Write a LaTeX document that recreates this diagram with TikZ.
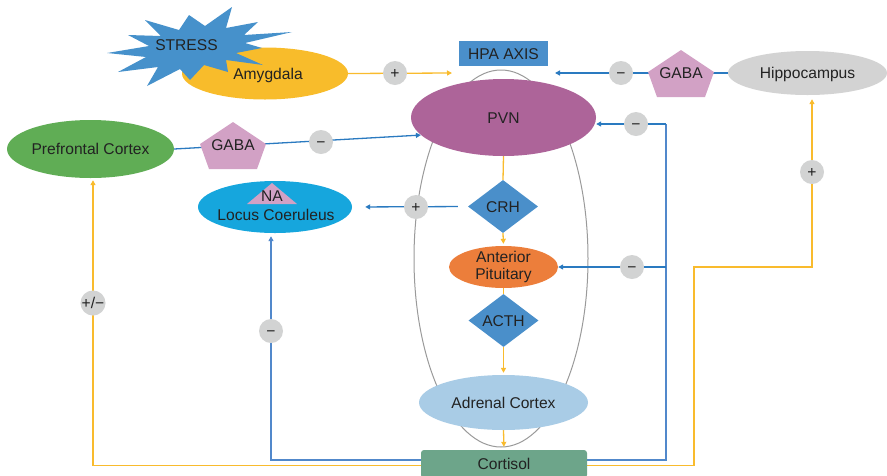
\documentclass[tikz,border=0pt]{standalone}
\usepackage{fontspec}
\setmainfont{Liberation Sans}
\usetikzlibrary{shapes.geometric,arrows.meta,backgrounds,calc}

\definecolor{amyc}{HTML}{F8BC2B}
\definecolor{stressc}{HTML}{4691CB}
\definecolor{hpac}{HTML}{4A8FCB}
\definecolor{pvnc}{HTML}{AD6499}
\definecolor{gabac}{HTML}{D2A1C5}
\definecolor{hipc}{HTML}{D3D3D3}
\definecolor{pfcc}{HTML}{60AD55}
\definecolor{lcc}{HTML}{16A6DD}
\definecolor{diac}{HTML}{4A8FCA}
\definecolor{apc}{HTML}{EC7E3B}
\definecolor{adrc}{HTML}{A9CCE6}
\definecolor{cortc}{HTML}{6DA58A}
\definecolor{signc}{HTML}{D2D3D3}
\definecolor{yel}{HTML}{F9BB2D}
\definecolor{blu}{HTML}{2A7AC0}
\definecolor{fbblu}{HTML}{5188CB}
\definecolor{txt}{HTML}{222222}
\definecolor{axisc}{HTML}{9A9A9A}

% pentagon behind a GABA label, centred on a coordinate
\newcommand\gabapent[1]{%
  \fill[gabac] ($(#1)+(0,-23)$) -- ($(#1)+(33,-1)$) -- ($(#1)+(24,24)$)
    -- ($(#1)+(-24,24)$) -- ($(#1)+(-33,-1)$) -- cycle;}

\begin{document}
\begin{tikzpicture}[x=1pt,y=-1pt,
  font=\fontsize{15.6}{17}\selectfont, text=txt,
  lbl/.style={inner sep=0pt, text height=11.2pt, text depth=0pt},
  organ/.style 2 args={ellipse, lbl, minimum width=#1, minimum height=#2},
  sign/.style={circle, fill=signc, minimum size=24pt, inner sep=0pt,
    text height=11.2pt, text depth=0pt},
  hormone/.style={diamond, fill=diac, lbl, aspect=1.32,
    minimum width=70pt, minimum height=53pt},
  tip/.style={-{Triangle[length=5pt,width=5pt]}},
  yline/.style={draw=yel, line width=1.3pt},
  bline/.style={draw=blu, line width=1.3pt},
  fbline/.style={draw=fbblu, line width=1.5pt},
]
\useasboundingbox (0,0) rectangle (887,475);

% ---------- upper row ----------
\node[organ={166pt}{52pt}, fill=amyc] (amy) at (265,73.5) {};
\node[lbl] (amyt) at (268,73.5) {Amygdala};

% stress burst
\fill[stressc] (107,53) -- (149,46) -- (128,35) -- (161,36) -- (145,20)
  -- (179,30) -- (189,15) -- (205,26) -- (232,7) -- (226,28) -- (258,22)
  -- (244,35) -- (292,32) -- (245,43) -- (262,48) -- (236,53) -- (263,65)
  -- (226,60) -- (228,72) -- (204,65) -- (190,80) -- (180,69) -- (147,86)
  -- (158,67) -- (118,72) -- (146,57) -- cycle;
\node[lbl] (stress) at (186.5,45) {STRESS};

\node[lbl, fill=hpac, minimum width=89pt, minimum height=25pt] (hpa) at (503.5,53.5) {HPA AXIS};
\coordinate (hpaL) at (452,73);
\coordinate (hpaR) at (555,73);

\coordinate (g2c) at (681,73);
\gabapent{g2c}
\node[lbl] (gaba2) at (g2c) {GABA};
\node[organ={159pt}{44pt}, fill=hipc] (hip) at (807.5,73) {Hippocampus};

\node[organ={185pt}{77pt}, fill=pvnc] (pvn) at (503.5,117.5) {PVN};

\node[organ={167pt}{58pt}, fill=pfcc] (pfc) at (90.5,149) {Prefrontal Cortex};
\coordinate (g1c) at (233,145);
\gabapent{g1c}
\node[lbl] (gaba1) at (g1c) {GABA};

% ---------- locus coeruleus ----------
\node[organ={154pt}{52pt}, fill=lcc] (lc) at (275,207) {};
\fill[gabac] (272,183) -- (297,204) -- (247,204) -- cycle;
\node[lbl] (na) at (272,196) {NA};
\node[lbl] (lct) at (276,214.5) {Locus Coeruleus};

% ---------- HPA chain ----------
\node[hormone] (crh) at (503,206.5) {CRH};
\node[organ={109pt}{42pt}, fill=apc] (ap) at (503.5,267) {};
\node[align=center, inner sep=0pt] (apt) at (503.5,267) {Anterior\\Pituitary};
\node[hormone] (acth) at (503.5,320.5) {ACTH};
\node[organ={169pt}{55pt}, fill=adrc] (adr) at (503.5,402.5) {Adrenal Cortex};
\node[lbl, fill=cortc, rounded corners=3pt, minimum width=166pt,
  minimum height=28pt] (cort) at (504,464) {Cortisol};

% ---------- signs ----------
\node[sign] (s1) at (395,73) {+};
\node[sign] (s2) at (621,73) {−};
\node[sign] (s3) at (321,142) {−};
\node[sign] (s4) at (636,124) {−};
\node[sign] (s5) at (416,207) {+};
\node[sign] (s6) at (632,267) {−};
\node[sign] (s7) at (93,303) {+/−};
\node[sign] (s8) at (271,331) {−};
\node[sign] (s9) at (812,172) {+};

% ---------- connectors ----------
\coordinate (fbL) at (271,460);
\coordinate (fbR) at (666,460);
\coordinate (fbT) at (666,124);
\coordinate (yL) at (93,465.5);
\coordinate (yR1) at (694,465.5);
\coordinate (yR2) at (694,267);
\coordinate (yR3) at (812,267);

\begin{pgfonlayer}{background}
  \draw[axisc, line width=1pt] (501,258.5) ellipse [x radius=87pt, y radius=188.5pt];

  \draw[yline, tip] (amy.east) -- (hpaL);
  \draw[bline, tip] (hip.west) -- (hpaR);
  \draw[bline, tip] (pfc.east) -- (pvn.192);

  \draw[yline] (pvn.south) -- (crh.north);
  \draw[yline, tip, shorten >=2pt] (crh.south) -- (ap.north);
  \draw[yline] (ap.south) -- (acth.north);
  \draw[yline, tip, shorten >=2pt] (acth.south) -- (adr.north);
  \draw[yline, tip, shorten >=3pt] (adr.south) -- (cort.north);

  \draw[bline, tip, shorten <=10pt, shorten >=13pt] (crh.west) -- (lc.east);

  \draw[fbline, tip, shorten >=3pt] (cort.west |- fbL) -- (fbL) -- (lc.south -| fbL);
  \draw[fbline] (cort.east |- fbR) -- (fbR) -- (fbT);
  \draw[bline, tip] (fbT) -- (pvn.east |- fbT);
  \draw[bline, tip] (ap.east -| fbR) -- (ap.east);

  \draw[yline, tip, shorten >=2pt] (cort.west |- yL) -- (yL) -- (pfc.south -| yL);
  \draw[yline, tip, shorten >=4pt] (cort.east |- yR1) -- (yR1) -- (yR2) -- (yR3)
    -- (hip.south -| yR3);
\end{pgfonlayer}
\end{tikzpicture}
\end{document}
